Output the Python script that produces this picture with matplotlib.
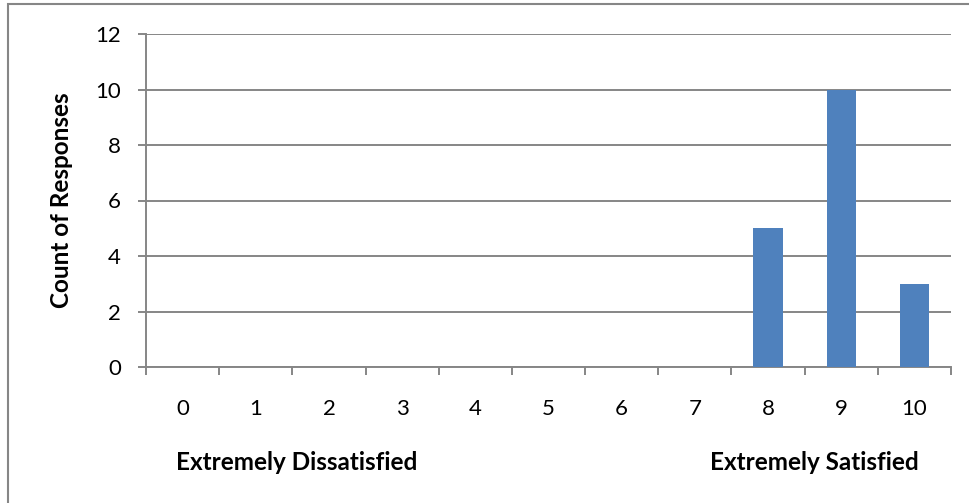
import matplotlib.pyplot as plt
import numpy as np
from matplotlib.patches import Rectangle
from matplotlib.ticker import FixedLocator

plt.rcParams['font.family'] = ['Lato', 'DejaVu Sans']

scores = [0, 1, 2, 3, 4, 5, 6, 7, 8, 9, 10]
counts = [0, 0, 0, 0, 0, 0, 0, 0, 5, 10, 3]
y_ticks = [0, 2, 4, 6, 8, 10, 12]

W, H = 969, 503
fig = plt.figure(figsize=(W / 100, H / 100), dpi=100)
ax = fig.add_axes([146 / W, 1 - 367 / H, (951 - 146) / W, (367 - 34) / H])

grey = '#868686'
x = np.arange(len(scores))
ax.bar(x, counts, width=0.4, color='#4F81BD', zorder=3)

ax.set_xlim(-0.5, len(scores) - 0.5)
ax.set_ylim(0, 12)
ax.set_yticks(y_ticks)
ax.set_xticks(x)
ax.set_xticklabels([str(s) for s in scores])
ax.xaxis.set_minor_locator(FixedLocator(np.arange(-0.5, len(scores), 1.0)))

ax.grid(axis='y', color=grey, linewidth=1.4, zorder=0)
for side in ['top', 'right']:
    ax.spines[side].set_visible(False)
for side in ['left', 'bottom']:
    ax.spines[side].set_color(grey)
    ax.spines[side].set_linewidth(1.4)

ax.tick_params(axis='y', which='major', length=6, width=1.4, color=grey,
               pad=12, labelsize=16)
ax.tick_params(axis='x', which='major', length=0, pad=23, labelsize=16)
ax.tick_params(axis='x', which='minor', length=6, width=1.4, color=grey)

fig.text(62 / W, 1 - 200 / H, 'Count of Responses', rotation=90,
         ha='center', va='center', fontsize=17.5, fontweight='bold')
fig.text(297 / W, 1 - 462 / H, 'Extremely Dissatisfied',
         ha='center', va='center', fontsize=17.5, fontweight='bold')
fig.text(814 / W, 1 - 462 / H, 'Extremely Satisfied',
         ha='center', va='center', fontsize=17.5, fontweight='bold')

# outer chart frame, open at the right and bottom edges
fig.patches.append(Rectangle((8 / W, -0.1), 1.2, 1.1 - 4.5 / H,
                             transform=fig.transFigure, fill=False,
                             edgecolor=grey, linewidth=1.5))

fig.savefig('out.png', dpi=100)
